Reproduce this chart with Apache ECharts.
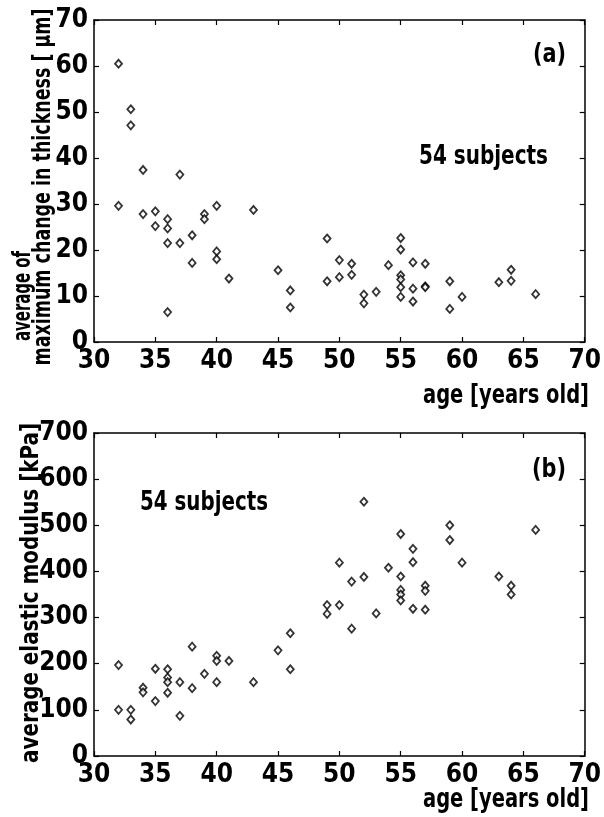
<!DOCTYPE html>
<html>
<head>
<meta charset="utf-8">
<script src="https://cdn.jsdelivr.net/npm/echarts@6/dist/echarts.min.js"></script>
<style>
  html, body { margin: 0; padding: 0; background: #fff; }
  #chart { width: 604px; height: 817px; }
</style>
</head>
<body>
<div id="chart"></div>
<script>
// (a) average of maximum change in thickness vs age
const ageA = [32, 33, 33, 34, 37, 32, 34, 35, 35, 36, 36, 36, 37, 38, 38, 39, 39, 40, 40, 40, 41, 43, 45, 46, 46, 36,
  49, 49, 50, 50, 51, 51, 52, 52, 53, 54, 55, 55, 55, 55, 55, 55, 56, 56, 56, 57, 57, 57, 59, 59, 60, 63, 64, 64, 66];
const thickA = [60.5, 50.6, 47.1, 37.4, 36.4, 29.6, 27.8, 28.4, 25.2, 26.7, 24.7, 21.5, 21.5, 23.2, 17.2, 27.8, 26.7, 29.6, 19.7, 18.0, 13.8, 28.7, 15.6, 11.2, 7.5, 6.5,
  22.5, 13.2, 17.8, 14.1, 17.0, 14.6, 10.3, 8.4, 10.9, 16.7, 22.6, 20.1, 14.5, 13.6, 11.9, 9.8, 17.3, 11.6, 8.8, 17.0, 12.1, 11.9, 13.2, 7.2, 9.8, 13.0, 15.7, 13.3, 10.4];

// (b) average elastic modulus vs age
const ageB = [32, 32, 33, 33, 34, 34, 35, 35, 36, 36, 36, 36, 37, 37, 38, 38, 39, 40, 40, 40, 41, 43, 45, 46, 46,
  49, 49, 50, 50, 51, 51, 52, 52, 53, 54, 55, 55, 55, 55, 55, 56, 56, 56, 57, 57, 57, 59, 59, 60, 63, 64, 64, 66];
const modB = [197, 100, 100, 79, 148, 138, 189, 119, 188, 170, 160, 137, 160, 87, 237, 147, 178, 217, 206, 160, 206, 160, 229, 266, 188,
  327, 308, 419, 327, 378, 276, 551, 388, 309, 408, 481, 389, 360, 350, 337, 449, 420, 319, 369, 358, 317, 500, 468, 419, 389, 369, 350, 490];

const FONT = '"Liberation Sans Narrow", "DejaVu Sans Condensed", "Liberation Sans", sans-serif';

const chart = echarts.init(document.getElementById('chart'));

function pairs(xs, ys) {
  return xs.map((x, i) => [x, ys[i]]);
}

// squeeze a text horizontally so it spans the wanted width (condensed look)
const measureCtx = document.createElement('canvas').getContext('2d');
function squeeze(text, size, width) {
  measureCtx.font = 'bold ' + size + 'px ' + FONT;
  return Math.min(1, width / measureCtx.measureText(text).width);
}

const labelStyle = { color: '#000', fontFamily: FONT, fontWeight: 'bold', fontSize: 26 };
const lineStyle = { color: '#000', width: 1.5 };

function xAxis(grid, mirror) {
  return {
    type: 'value', gridIndex: grid, min: 30, max: 70, interval: 5,
    position: mirror ? 'top' : 'bottom',
    axisLine: { show: true, onZero: false, lineStyle: lineStyle },
    axisTick: { show: true, inside: true, length: 5, lineStyle: { color: '#000', width: 1.2 } },
    axisLabel: mirror ? { show: false } : Object.assign({ margin: 6 }, labelStyle),
    splitLine: { show: false }
  };
}

function yAxis(grid, max, step, mirror) {
  return {
    type: 'value', gridIndex: grid, min: 0, max: max, interval: step,
    position: mirror ? 'right' : 'left',
    axisLine: { show: true, onZero: false, lineStyle: lineStyle },
    axisTick: { show: true, inside: true, length: 5, lineStyle: { color: '#000', width: 1.2 } },
    axisLabel: mirror ? { show: false } : Object.assign({ margin: 6 }, labelStyle),
    splitLine: { show: false }
  };
}

const marker = {
  type: 'scatter', symbol: 'diamond', symbolSize: [7, 8],
  itemStyle: { color: '#fff', borderColor: '#000', borderWidth: 1.8 },
  silent: true
};

// horizontal text; align 'left' or 'right' at x, width = wanted span
function txt(x, y, text, size, width, align) {
  return {
    type: 'text', x: x, y: y, scaleX: squeeze(text, size, width),
    style: {
      text: text, fill: '#000', fontFamily: FONT, fontWeight: 'bold', fontSize: size,
      textAlign: align || 'left', textVerticalAlign: 'middle'
    }
  };
}

// vertical text reading bottom to top, centred at (x, y)
function rot(x, y, text, size, length) {
  return {
    type: 'text', x: x, y: y, rotation: Math.PI / 2, scaleX: squeeze(text, size, length),
    style: {
      text: text, fill: '#000', fontFamily: FONT, fontWeight: 'bold', fontSize: size,
      textAlign: 'center', textVerticalAlign: 'middle'
    }
  };
}

const option = {
  backgroundColor: '#fff',
  animation: false,
  grid: [
    { left: 94, top: 20, width: 497, height: 322 },
    { left: 94, top: 433, width: 498, height: 323 }
  ],
  xAxis: [xAxis(0, false), xAxis(0, true), xAxis(1, false), xAxis(1, true)],
  yAxis: [yAxis(0, 70, 10, false), yAxis(0, 70, 10, true), yAxis(1, 700, 100, false), yAxis(1, 700, 100, true)],
  series: [
    Object.assign({ xAxisIndex: 0, yAxisIndex: 0, data: pairs(ageA, thickA) }, marker),
    Object.assign({ xAxisIndex: 2, yAxisIndex: 2, data: pairs(ageB, modB) }, marker)
  ],
  graphic: [
    rot(23, 296, 'average of', 25, 90),
    rot(43, 187, 'maximum change in thickness [ \u03bcm]', 25, 357),
    rot(31, 593, 'average elastic modulus [kPa]', 25, 340),
    txt(533, 55, '(a)', 27, 33),
    txt(419, 157, '54 subjects', 27, 129),
    txt(532, 470, '(b)', 27, 34),
    txt(140, 503, '54 subjects', 27, 128),
    txt(589, 396, 'age [years old]', 27, 166, 'right'),
    txt(589, 800, 'age [years old]', 27, 166, 'right')
  ]
};

chart.setOption(option);
</script>
</body>
</html>
